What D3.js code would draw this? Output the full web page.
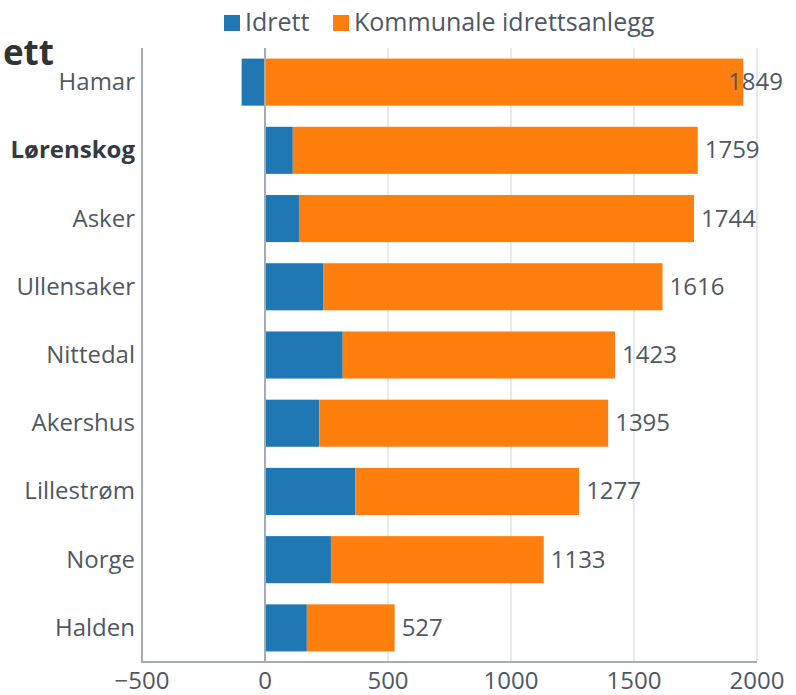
<!DOCTYPE html>
<html>
<head>
<meta charset="utf-8">
<script src="https://cdn.jsdelivr.net/npm/d3@7"></script>
<style>
  body { margin: 0; background: #fff; }
  text { font-family: "Open Sans", "Noto Sans", sans-serif; }
</style>
</head>
<body>
<svg id="chart" width="796" height="695"></svg>
<script>
// data
const kommuner = ['Hamar', 'Lørenskog', 'Asker', 'Ullensaker', 'Nittedal', 'Akershus', 'Lillestrøm', 'Norge', 'Halden'];
const idrett = [-95, 113, 138, 236, 316, 221, 367, 268, 170];
const anlegg = [1944, 1646, 1606, 1380, 1107, 1174, 910, 865, 357];
const totals = [1849, 1759, 1744, 1616, 1423, 1395, 1277, 1133, 527];
const xTicks = [-500, 0, 500, 1000, 1500, 2000];
const highlight = 'Lørenskog';

const seriesNames = ['Idrett', 'Kommunale idrettsanlegg'];
const colors = ['#1f77b4', '#ff7f0e'];

const W = 796, H = 695;
const FS = 24;
const svg = d3.select('#chart');

const x = d3.scaleLinear().domain([-500, 2000]).range([142, 757]);
const y = d3.scaleBand().domain(kommuner).range([48, 662])
    .paddingInner(0.31).paddingOuter(0.155);

// gridlines
svg.append('g')
    .selectAll('line')
    .data(xTicks.filter(t => t > 0))
    .enter().append('line')
    .attr('x1', d => x(d)).attr('x2', d => x(d))
    .attr('y1', 48).attr('y2', 662)
    .attr('stroke', '#dde3e8')
    .attr('stroke-width', 1.5);

// bars: Idrett starts at 0, anlegg stacks on top of it (or from 0 if Idrett negative)
const rows = kommuner.map((k, i) => ({ k, idr: idrett[i], anl: anlegg[i], tot: totals[i] }));

svg.append('g').selectAll('rect')
    .data(rows)
    .enter().append('rect')
    .attr('x', d => x(Math.min(0, d.idr)))
    .attr('width', d => Math.abs(x(d.idr) - x(0)))
    .attr('y', d => y(d.k))
    .attr('height', y.bandwidth())
    .attr('fill', colors[0]);

svg.append('g').selectAll('rect')
    .data(rows)
    .enter().append('rect')
    .attr('x', d => x(Math.max(0, d.idr)))
    .attr('width', d => x(Math.max(0, d.idr) + d.anl) - x(Math.max(0, d.idr)))
    .attr('y', d => y(d.k))
    .attr('height', y.bandwidth())
    .attr('fill', colors[1]);

// zero line and axes lines
svg.append('line')
    .attr('x1', x(0)).attr('x2', x(0))
    .attr('y1', 48).attr('y2', 662)
    .attr('stroke', '#a3adb5').attr('stroke-width', 2);

svg.append('line')
    .attr('x1', x(-500)).attr('x2', x(-500))
    .attr('y1', 48).attr('y2', 663)
    .attr('stroke', '#a3adb5').attr('stroke-width', 2);

svg.append('line')
    .attr('x1', x(-500) - 1).attr('x2', x(2000))
    .attr('y1', 662).attr('y2', 662)
    .attr('stroke', '#a3adb5').attr('stroke-width', 2);

// x tick labels
svg.append('g').selectAll('text')
    .data(xTicks)
    .enter().append('text')
    .attr('x', d => x(d))
    .attr('y', 689)
    .attr('text-anchor', 'middle')
    .attr('font-size', FS)
    .attr('fill', '#4e5862')
    .text(d => d < 0 ? '\u2212' + Math.abs(d) : d);

// y labels
svg.append('g').selectAll('text')
    .data(kommuner)
    .enter().append('text')
    .attr('x', 135)
    .attr('y', d => y(d) + y.bandwidth() / 2 + 8)
    .attr('text-anchor', 'end')
    .attr('font-size', FS)
    .attr('font-weight', d => d === highlight ? 'bold' : 'normal')
    .attr('fill', d => d === highlight ? '#333a42' : '#4e5862')
    .text(d => d);

// total labels, kept inside the picture
svg.append('g').selectAll('text')
    .data(rows)
    .enter().append('text')
    .attr('y', d => y(d.k) + y.bandwidth() / 2 + 8)
    .attr('font-size', FS)
    .attr('fill', '#4e5862')
    .text(d => d.tot)
    .each(function(d) {
        const w = this.getComputedTextLength();
        const end = x(Math.max(0, d.idr) + d.anl);
        d3.select(this).attr('x', Math.min(end + 7, W - 13 - w));
    });

// legend
const legend = svg.append('g');
const legendX = [224, 333];
seriesNames.forEach((name, i) => {
    legend.append('rect')
        .attr('x', legendX[i]).attr('y', 15)
        .attr('width', 16).attr('height', 16)
        .attr('fill', colors[i]);
    legend.append('text')
        .attr('x', legendX[i] + 21).attr('y', 31)
        .attr('font-size', 25)
        .attr('fill', '#4e5862')
        .text(name);
});

// cut-off title piece at the left edge
svg.append('text')
    .attr('x', 54).attr('y', 65)
    .attr('text-anchor', 'end')
    .attr('font-size', 35)
    .attr('font-weight', 'bold')
    .attr('fill', '#333')
    .text('ett');
</script>
</body>
</html>
